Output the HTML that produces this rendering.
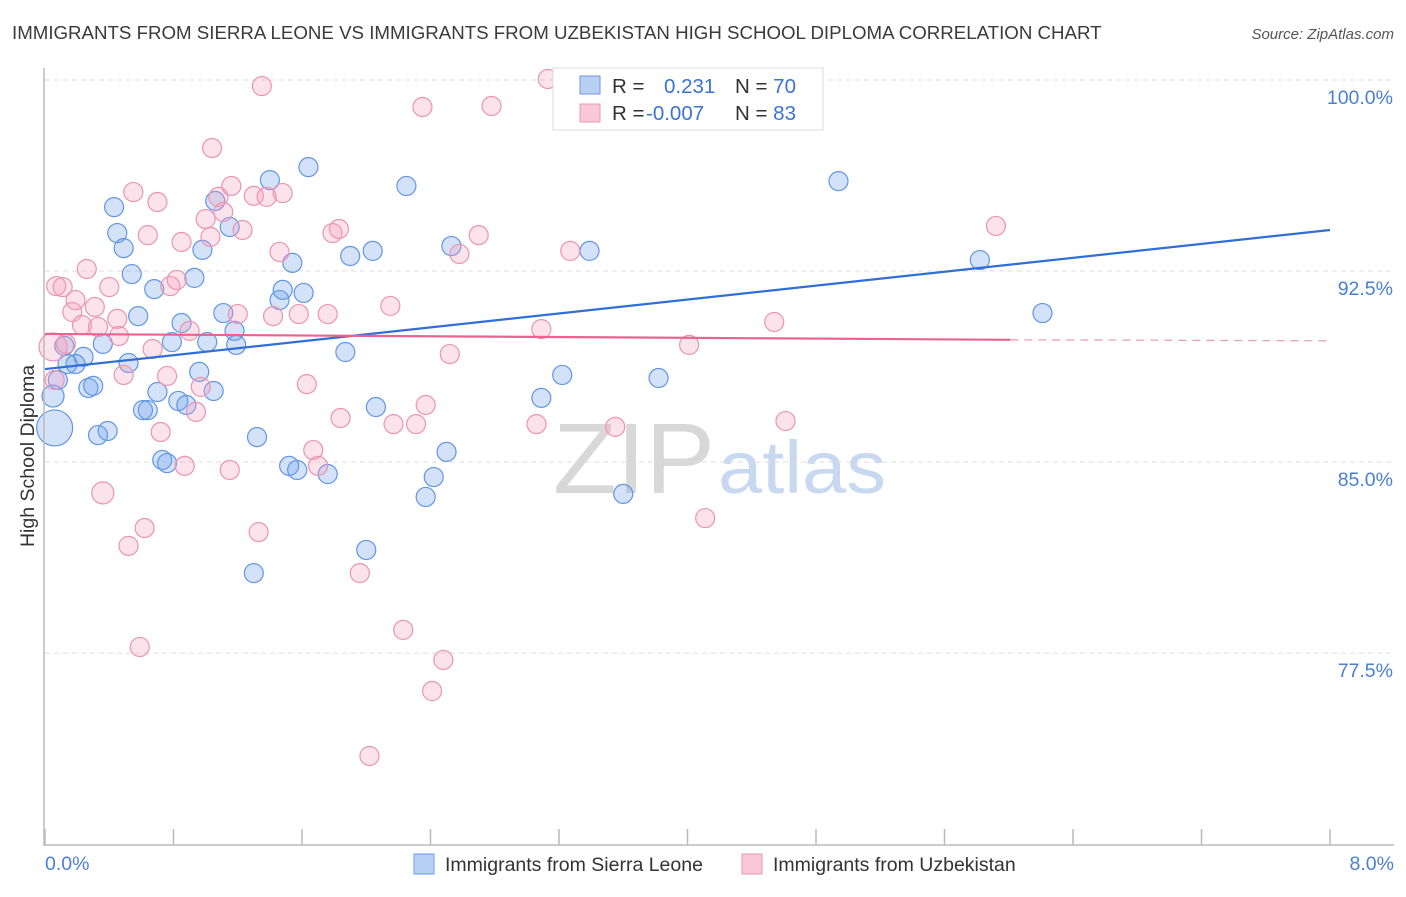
<!DOCTYPE html>
<html><head><meta charset="utf-8"><style>
body{margin:0;background:#fff;font-family:"Liberation Sans",sans-serif;}
svg text{font-family:"Liberation Sans",sans-serif;}
</style></head><body>
<svg id="c" width="1406" height="892">
<text x="12" y="39" font-size="18.7" fill="#3a3a3a">IMMIGRANTS FROM SIERRA LEONE VS IMMIGRANTS FROM UZBEKISTAN HIGH SCHOOL DIPLOMA CORRELATION CHART</text>
<text x="1394" y="39" font-size="15" fill="#555" font-style="italic" text-anchor="end">Source: ZipAtlas.com</text>
<g>
<text x="553" y="493" font-size="100" font-family="Liberation Serif" fill="#d8d8d8" textLength="162" lengthAdjust="spacingAndGlyphs">ZIP</text>
<text x="718" y="493" font-size="74" fill="#c8d8f0" textLength="168" lengthAdjust="spacingAndGlyphs">atlas</text>
</g>
<g id="grid"></g><g id="pts"></g><g id="trend"></g>
<line x1="44" y1="68" x2="44" y2="846" stroke="#bbb" stroke-width="1.5"/>
<line x1="44" y1="845" x2="1394" y2="845" stroke="#bbb" stroke-width="1.5"/>
<g id="ticks"></g>
<text x="45" y="870" font-size="19.5" fill="#4a7fd4">0.0%</text>
<text x="1394" y="870" font-size="19.5" fill="#4a7fd4" text-anchor="end">8.0%</text>
<text transform="translate(34,456) rotate(-90)" font-size="19.5" fill="#333" text-anchor="middle">High School Diploma</text>
<g>
<rect x="553" y="68" width="270" height="62" fill="#fff" stroke="#ddd"/>
<rect x="580" y="76" width="20" height="18" fill="#b8d0f4" stroke="#6b9ae0"/>
<rect x="580" y="104" width="20" height="18" fill="#f8c8d8" stroke="#e89ab4"/>
<text x="612" y="93" font-size="20.5" fill="#333">R = <tspan x="664" fill="#3b73d4">0.231</tspan><tspan x="735" fill="#333">N = </tspan><tspan fill="#3b73d4">70</tspan></text>
<text x="612" y="120" font-size="20.5" fill="#333">R = <tspan x="646" fill="#3b73d4">-0.007</tspan><tspan x="735" fill="#333">N = </tspan><tspan fill="#3b73d4">83</tspan></text>
</g>
<g>
<rect x="414" y="854" width="20" height="20" fill="#b8d0f4" stroke="#6b9ae0"/>
<text x="445" y="871" font-size="19.5" fill="#333">Immigrants from Sierra Leone</text>
<rect x="742" y="854" width="20" height="20" fill="#f8c8d8" stroke="#e89ab4"/>
<text x="773" y="871" font-size="19.5" fill="#333">Immigrants from Uzbekistan</text>
</g>
</svg>
<script>
const yTicks=[100,92.5,85,77.5];
const yTickLabels=["100.0%","92.5%","85.0%","77.5%"];
const xTicks=[0,0.8,1.6,2.4,3.2,4.0,4.8,5.6,6.4,7.2,8.0];
const blueX=[0.06,0.05,0.08,0.14,0.19,0.12,0.24,0.27,0.30,0.33,0.39,0.36,0.43,0.45,0.49,0.52,0.54,0.58,0.61,0.64,0.68,0.70,0.73,0.76,0.79,0.83,0.85,0.88,0.93,0.96,0.98,1.01,1.05,1.06,1.11,1.15,1.18,1.19,1.30,1.32,1.40,1.46,1.48,1.54,1.52,1.57,1.61,1.64,1.76,1.87,1.90,2.04,2.06,2.00,2.25,2.37,2.42,2.50,2.53,3.09,3.22,3.39,3.60,3.82,4.94,5.82,6.21,4.31];
const blueY=[86.34,87.59,88.22,88.85,88.85,89.56,89.13,87.91,87.99,86.06,86.22,89.64,95.01,93.99,93.40,88.89,92.38,90.73,87.04,87.04,91.79,87.75,85.08,84.96,89.71,87.40,90.46,87.24,92.23,88.54,93.33,89.71,87.79,95.25,90.85,94.23,90.15,89.60,80.64,85.98,96.07,91.36,91.76,92.82,84.85,84.69,91.64,96.58,84.53,89.32,93.09,93.29,87.16,81.55,95.84,83.63,84.41,85.40,93.48,87.52,88.42,93.29,83.75,88.30,96.03,92.93,90.85,99.92];
const blueR=[18,11];
const pinkX=[0.05,0.06,0.07,0.11,0.13,0.17,0.19,0.23,0.26,0.31,0.33,0.36,0.40,0.45,0.46,0.49,0.52,0.55,0.59,0.62,0.64,0.67,0.70,0.72,0.76,0.78,0.82,0.85,0.87,0.90,0.94,0.97,1.00,1.03,1.04,1.08,1.11,1.15,1.16,1.20,1.23,1.30,1.33,1.35,1.38,1.42,1.46,1.48,1.58,1.63,1.67,1.70,1.76,1.79,1.83,1.84,1.96,2.15,2.17,2.23,2.31,2.35,2.37,2.41,2.48,2.52,2.58,2.02,2.70,2.78,3.06,3.09,3.13,3.27,3.55,4.01,4.11,4.54,4.61,5.92];
const pinkY=[89.52,88.22,91.91,91.87,89.64,90.89,91.36,90.38,92.58,91.09,90.30,83.79,91.87,90.62,89.95,88.42,81.71,95.60,77.74,82.41,93.91,89.44,95.21,86.18,88.38,91.91,92.15,93.64,84.85,90.15,86.97,87.95,94.54,93.84,97.33,95.41,94.82,84.69,95.84,90.81,94.11,95.45,82.25,99.76,95.41,90.73,93.25,95.56,90.81,88.06,85.47,84.85,90.81,93.99,94.15,86.73,80.64,91.13,86.49,78.41,86.49,98.94,87.24,76.01,77.23,89.24,93.17,73.46,93.91,98.98,86.49,90.22,100.04,93.29,86.38,89.60,82.80,90.50,86.61,94.27];
const pinkR=[14,9.5,9.5,9.5,9.5,9.5,9.5,9.5,9.5,9.5,9.5,11];
const blueTrend=[[0,88.65],[8,94.11]];
const pinkTrend=[[0,90.03],[6.01,89.80],[8,89.76]];
const NS='http://www.w3.org/2000/svg';
const X=v=>45+v/8*1285, Y=v=>80+(100-v)*25.47;
function mk(t,p,a){const e=document.createElementNS(NS,t);for(const k in a)e.setAttribute(k,a[k]);p.appendChild(e);return e;}
const grid=document.getElementById('grid'),pts=document.getElementById('pts'),tr=document.getElementById('trend'),tk=document.getElementById('ticks');
yTicks.forEach((v,i)=>{
 const l=mk('line',grid,{x1:45,x2:1394,y1:Y(v),y2:Y(v),stroke:'#ddd','stroke-dasharray':'5,4'});
 
 
 const t=mk('text',grid,{x:1393,y:Y(v)+24,'font-size':19.5,fill:'#4a7fd4','text-anchor':'end'});
 t.textContent=yTickLabels[i];
 
 
});
xTicks.forEach(v=>{
 const l=mk('line',tk,{x1:X(v),x2:X(v),y1:829,y2:845,stroke:'#bbb','stroke-width':1.5});
 
 
});
blueX.forEach((x,i)=>{
 const c=mk('circle',pts,{cx:X(x),cy:Y(blueY[i]),r:blueR[i]||9.5,fill:'rgba(110,160,235,0.3)',stroke:'#6196e2','stroke-width':1.2});
 
 
});
pinkX.forEach((x,i)=>{
 const c=mk('circle',pts,{cx:X(x),cy:Y(pinkY[i]),r:pinkR[i]||9.5,fill:'rgba(245,160,190,0.3)',stroke:'#eb94b2','stroke-width':1.2});
 
 
});
const bl=mk('line',tr,{x1:X(blueTrend[0][0]),y1:Y(blueTrend[0][1]),x2:X(blueTrend[1][0]),y2:Y(blueTrend[1][1]),stroke:'#2f6fd6','stroke-width':2.2});


const pl=mk('line',tr,{x1:X(pinkTrend[0][0]),y1:Y(pinkTrend[0][1]),x2:X(pinkTrend[1][0]),y2:Y(pinkTrend[1][1]),stroke:'#e8648e','stroke-width':2.2});


const pd=mk('line',tr,{x1:X(pinkTrend[1][0]),y1:Y(pinkTrend[1][1]),x2:X(pinkTrend[2][0]),y2:Y(pinkTrend[2][1]),stroke:'#e8a0b8','stroke-width':1.3,'stroke-dasharray':'8,6'});


</script>
</body></html>
